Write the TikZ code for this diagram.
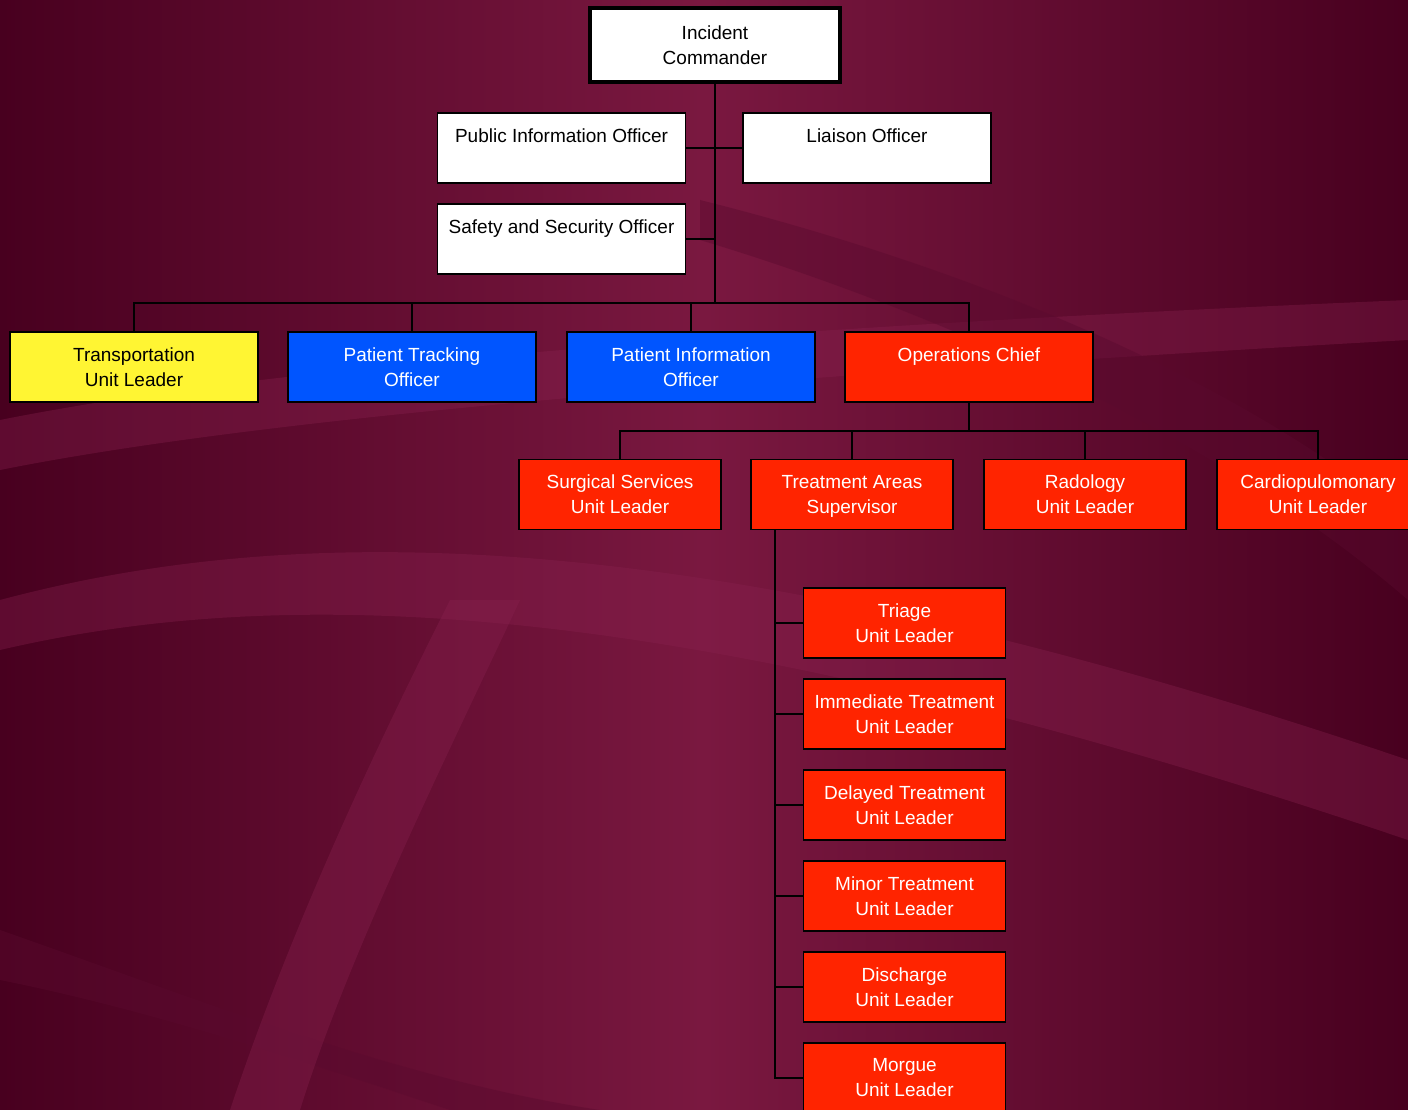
\documentclass[tikz,border=0pt]{standalone}
\usepackage{fontspec}
\setmainfont{Liberation Sans}
\definecolor{bgdark}{HTML}{48001F}
\definecolor{bgmid}{HTML}{7A1840}
\definecolor{bglight}{HTML}{8A2250}
\definecolor{bgshade}{HTML}{5A0A2E}
\definecolor{boxyellow}{HTML}{FFF533}
\definecolor{boxblue}{HTML}{0055FF}
\definecolor{boxred}{HTML}{FF2400}
\begin{document}
\begin{tikzpicture}[x=1pt,y=-1pt,
  box/.style={draw=black, line width=1.5pt, minimum width=248pt, minimum height=70pt,
    inner sep=0pt, align=center, font=\fontsize{19}{25}\selectfont},
  whitebox/.style={box, fill=white, text=black},
  yellowbox/.style={box, fill=boxyellow, text=black},
  bluebox/.style={box, fill=boxblue, text=white},
  redbox/.style={box, fill=boxred, text=white},
  smallred/.style={redbox, minimum width=202pt},
  conn/.style={draw=black, line width=2pt},
  swoosh/.style={fill=bglight, fill opacity=0.35},
  darkswoosh/.style={fill=bgshade, fill opacity=0.45}]
\useasboundingbox (0,0) rectangle (1408,1110);
\clip (0,0) rectangle (1408,1110);
% background
\shade[left color=bgdark, right color=bgdark, middle color=bgmid] (0,0) rectangle (1408,1110);
\fill[swoosh] (0,420) .. controls (250,370) and (700,330) .. (1408,300) -- (1408,340) .. controls (700,380) and (250,420) .. (0,470) -- cycle;
\fill[swoosh] (0,600) .. controls (300,520) and (700,520) .. (1408,760) -- (1408,840) .. controls (700,600) and (300,580) .. (0,650) -- cycle;
\fill[darkswoosh] (0,930) .. controls (200,1000) and (400,1080) .. (600,1110) -- (450,1110) .. controls (300,1060) and (150,1010) .. (0,980) -- cycle;
\fill[swoosh] (230,1110) .. controls (300,900) and (400,700) .. (450,600) -- (520,600) .. controls (450,750) and (350,950) .. (300,1110) -- cycle;
\fill[darkswoosh] (700,200) .. controls (900,250) and (1200,350) .. (1408,520) -- (1408,600) .. controls (1200,420) and (900,300) .. (700,240) -- cycle;
% nodes
\node[whitebox, line width=4pt, minimum width=250pt, minimum height=74pt] (ic) at (715,45) {Incident\\Commander};
\node[whitebox] (pio) at (561.5,148) {Public Information Officer\\[-8pt]\strut};
\node[whitebox] (lo) at (867,148) {Liaison Officer\\[-8pt]\strut};
\node[whitebox] (sso) at (561.5,239) {Safety and Security Officer\\[-8pt]\strut};
\node[yellowbox] (tul) at (134,367) {Transportation\\Unit Leader};
\node[bluebox] (pto) at (412,367) {Patient Tracking\\Officer};
\node[bluebox] (pinf) at (691,367) {Patient Information\\Officer};
\node[redbox] (ops) at (969,367) {Operations Chief\\[-8pt]\strut};
\node[smallred] (surg) at (620,494.5) {Surgical Services\\Unit Leader};
\node[smallred] (treat) at (852,494.5) {Treatment Areas\\Su\smash{p}ervisor};
\node[smallred] (rad) at (1085,494.5) {Radology\\Unit Leader};
\node[smallred] (card) at (1318,494.5) {Cardiopulomonary\\Unit Leader};
\node[smallred] (triage) at (904.5,623) {Triage\\Unit Leader};
\node[smallred] (imm) at (904.5,714) {Immediate Treatment\\Unit Leader};
\node[smallred] (del) at (904.5,805) {Delayed Treatment\\Unit Leader};
\node[smallred] (minor) at (904.5,896) {Minor Treatment\\Unit Leader};
\node[smallred] (dis) at (904.5,987) {Discharge\\Unit Leader};
\node[smallred] (morg) at (904.5,1078) {Morgue\\Unit Leader};
% junction coordinates
\coordinate (bus) at (0,303);
\coordinate (bustwo) at (0,431);
\coordinate (spine) at (775,0);
% connectors
\draw[conn] (ic.south) -- (ic.south |- bus);
\draw[conn] (pio.east) -- (lo.west);
\draw[conn] (sso.east) -- (sso.east -| ic.south);
\draw[conn] (tul.north) -- (tul.north |- bus) -- (ops.north |- bus) -- (ops.north);
\draw[conn] (pto.north) -- (pto.north |- bus);
\draw[conn] (pinf.north) -- (pinf.north |- bus);
\draw[conn] (ops.south) -- (ops.south |- bustwo);
\draw[conn] (surg.north) -- (surg.north |- bustwo) -- (card.north |- bustwo) -- (card.north);
\draw[conn] (treat.north) -- (treat.north |- bustwo);
\draw[conn] (rad.north) -- (rad.north |- bustwo);
\draw[conn] (treat.south -| spine) -- (morg.west -| spine) -- (morg.west);
\draw[conn] (triage.west -| spine) -- (triage.west);
\draw[conn] (imm.west -| spine) -- (imm.west);
\draw[conn] (del.west -| spine) -- (del.west);
\draw[conn] (minor.west -| spine) -- (minor.west);
\draw[conn] (dis.west -| spine) -- (dis.west);
\end{tikzpicture}
\end{document}
